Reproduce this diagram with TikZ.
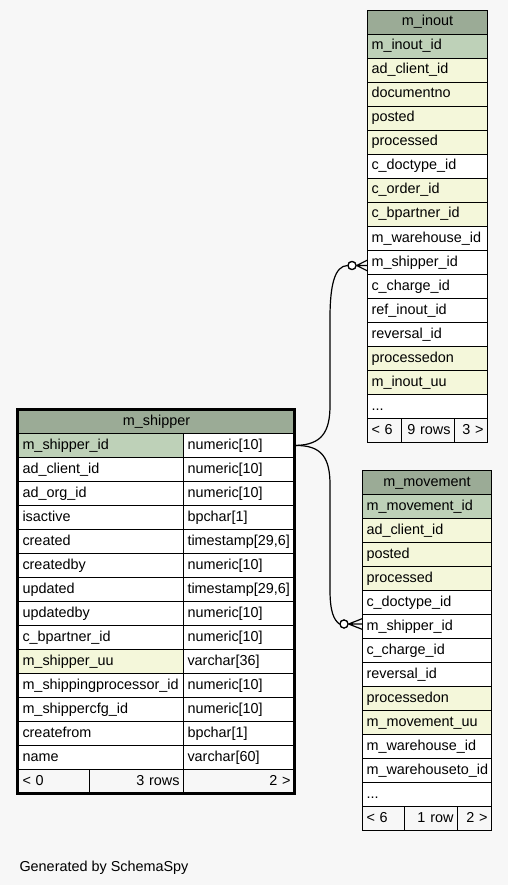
\documentclass[tikz,border=0pt]{standalone}
\usepackage{fontspec}
\setmainfont{Liberation Sans}
\usetikzlibrary{positioning}
\definecolor{hdrgreen}{HTML}{9BAB96}
\definecolor{keygreen}{HTML}{BED1B8}
\definecolor{idxyellow}{HTML}{F4F7DA}
\definecolor{canvas}{HTML}{F7F7F7}

\begin{document}
\begin{tikzpicture}[x=1pt, y=-1pt,
      cell/.style={draw=black, fill=white, anchor=north west, minimum height=24pt,
                   inner xsep=4pt, inner ysep=0pt, align=left, line width=1pt,
                   text height=10pt, text depth=3pt, font=\fontsize{14.4}{16}\selectfont},
      hdr/.style={cell, fill=hdrgreen, align=center},
      keycol/.style={fill=keygreen},
      idxcol/.style={fill=idxyellow},
      plaincol/.style={fill=white},
      foot/.style={cell, fill=canvas},
      wI/.style={text width=112pt},
      wM/.style={text width=121pt},
      rel/.style={draw=black, line width=1.2pt},
      ring/.style={circle, draw=black, fill=white, line width=1.2pt,
                   minimum size=8pt, inner sep=0pt},
    ]
    \fill[canvas] (0,0) rectangle (508,885);
    \useasboundingbox (0,0) rectangle (508,885);

    % m_inout
    \node[hdr, wI] (inoutH) at (367,10) {m\_inout};
    \foreach \name/\kind [count=\i] in {m\_inout\_id/keycol, ad\_client\_id/idxcol,
        documentno/idxcol, posted/idxcol, processed/idxcol, c\_doctype\_id/plaincol,
        c\_order\_id/idxcol, c\_bpartner\_id/idxcol, m\_warehouse\_id/plaincol,
        m\_shipper\_id/plaincol, c\_charge\_id/plaincol, ref\_inout\_id/plaincol,
        reversal\_id/plaincol, processedon/idxcol, m\_inout\_uu/idxcol}
      \node[cell, wI, \kind] (inout\i) at (367,10+24*\i) {\name};
    \node[cell, wI] (inout16) at (367,394) {.{}.{}.};
    \node[foot, text width=26pt] (inoutF1) at (367,418) {< 6};
    \node[foot, text width=45pt, align=right] (inoutF2) at (401,418) {9 rows};
    \node[foot, text width=25pt, align=right] (inoutF3) at (454,418) {3 >};

    % m_movement
    \node[hdr, wM] (moveH) at (362,470) {m\_movement};
    \foreach \name/\kind [count=\i] in {m\_movement\_id/keycol, ad\_client\_id/idxcol,
        posted/idxcol, processed/idxcol, c\_doctype\_id/plaincol, m\_shipper\_id/plaincol,
        c\_charge\_id/plaincol, reversal\_id/plaincol, processedon/idxcol,
        m\_movement\_uu/idxcol, m\_warehouse\_id/plaincol, m\_warehouseto\_id/plaincol}
      \node[cell, wM, \kind] (move\i) at (362,470+24*\i) {\name};
    \node[cell, wM] (move13) at (362,782) {.{}.{}.};
    \node[foot, text width=34pt] (moveF1) at (362,806) {< 6};
    \node[foot, text width=45pt, align=right] (moveF2) at (404,806) {1 row};
    \node[foot, text width=26pt, align=right] (moveF3) at (457,806) {2 >};

    % m_shipper
    \node[hdr, text width=268pt] (shipH) at (18,409) {m\_shipper};
    \foreach \name/\kind/\type [count=\i] in {m\_shipper\_id/keycol/numeric[10],
        ad\_client\_id/plaincol/numeric[10], ad\_org\_id/plaincol/numeric[10],
        isactive/plaincol/bpchar[1], {created/plaincol/timestamp[29,6]},
        createdby/plaincol/numeric[10], {updated/plaincol/timestamp[29,6]},
        updatedby/plaincol/numeric[10], c\_bpartner\_id/plaincol/numeric[10],
        m\_shipper\_uu/idxcol/varchar[36], m\_shippingprocessor\_id/plaincol/numeric[10],
        m\_shippercfg\_id/plaincol/numeric[10], createfrom/plaincol/bpchar[1],
        name/plaincol/varchar[60]}
      {
      \node[cell, text width=157pt, \kind] (ship\i) at (18,409+24*\i) {\name};
      \node[cell, text width=103pt] (shipT\i) at (183,409+24*\i) {\type};
      }
    \node[foot, text width=63pt] (shipF1) at (18,769) {< 0};
    \node[foot, text width=86pt, align=right] (shipF2) at (89,769) {3 rows};
    \node[foot, text width=103pt, align=right] (shipF3) at (183,769) {2 >};
    \draw[line width=3pt] (17.5,409) rectangle (294,793);

    % relations
    \node[ring] (ringI) at (352,265.5) {};
    \node[ring] (ringM) at (344,624) {};
    \coordinate (tipI) at (ringI.east);
    \coordinate (tipM) at (ringM.east);
    \draw[rel] (shipT1.east) .. controls (322,445) and (330,432) .. (330,405)
      -- (330,318) .. controls (330,284) and (335,266) .. (ringI.west);
    \draw[rel] (shipT1.east) .. controls (322,445) and (330,458) .. (330,485)
      -- (330,590) .. controls (330,612) and (334,620) .. (ringM.west);
    \draw[rel] (tipI) -- ++(11,-5.5) (tipI) -- ++(11,0) (tipI) -- ++(11,5.5);
    \draw[rel] (tipM) -- ++(14,-5.5) (tipM) -- ++(14,0) (tipM) -- ++(14,5.5);
    \node[ring] at (ringI) {};
    \node[ring] at (ringM) {};

    \node[anchor=base west, font=\fontsize{14.4}{16}\selectfont] (credit) at (16,871)
      {Generated by SchemaSpy};
  \end{tikzpicture}
\end{document}
